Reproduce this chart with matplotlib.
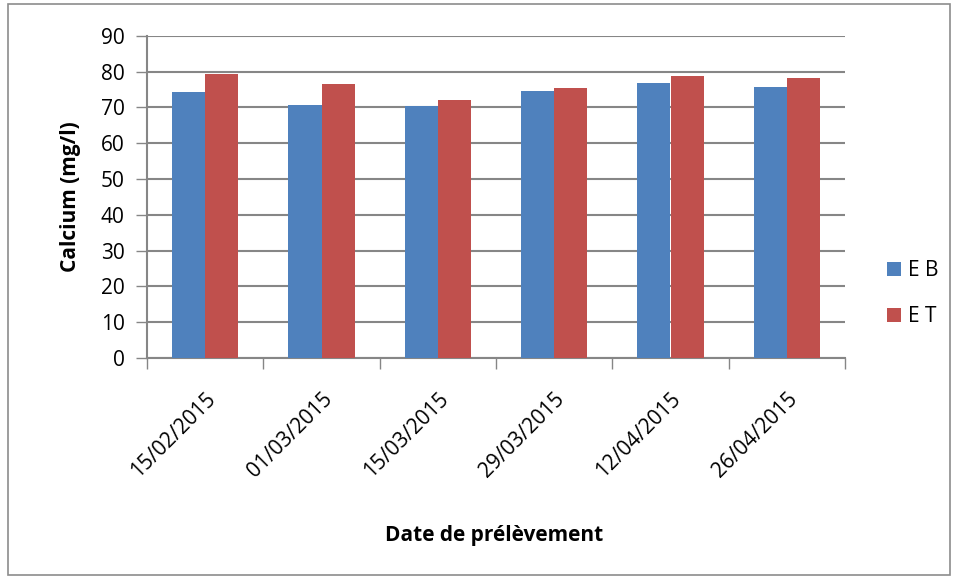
import numpy as np
import matplotlib.pyplot as plt
from matplotlib.patches import Rectangle

dates = ['15/02/2015', '01/03/2015', '15/03/2015', '29/03/2015', '12/04/2015', '26/04/2015']
eb = [74.3, 70.6, 70.4, 74.6, 76.8, 75.7]
et = [79.3, 76.5, 72.0, 75.4, 78.7, 78.2]

plt.rcParams['font.family'] = ['Open Sans', 'DejaVu Sans']

fig = plt.figure(figsize=(9.58, 5.79), dpi=100)
ax = fig.add_axes([147 / 958, 1 - 358 / 579, (845 - 147) / 958, (358 - 35.7) / 579])

# cadre extérieur
fig.patches.append(Rectangle((8 / 958, 4 / 579), 942 / 958, 571 / 579, transform=fig.transFigure,
                             fill=False, edgecolor='#8c8c8c', linewidth=1.2))

x = np.arange(len(dates))
w = 0.285
ax.bar(x - w / 2, eb, w, color='#4f81bd', label='E B', zorder=3)
ax.bar(x + w / 2, et, w, color='#c0504d', label='E T', zorder=3)

ax.set_xlim(-0.5, len(dates) - 0.5)
ax.set_ylim(0, 90)
ax.set_yticks(range(0, 91, 10))
ax.yaxis.grid(True, color='#868686', linewidth=1.5, zorder=0)
ax.set_axisbelow(True)

ax.set_xticks(np.arange(-0.5, len(dates), 1.0))
ax.set_xticklabels([])
ax.set_xticks(x, minor=True)
ax.set_xticklabels(dates, minor=True, rotation=45, ha='right', rotation_mode='anchor', fontsize=15)
ax.tick_params(axis='x', which='minor', length=0, pad=22)
ax.tick_params(axis='x', which='major', length=8, width=1, color='#868686')
ax.tick_params(axis='y', length=8, width=1, color='#868686', labelsize=15, pad=8)

for side in ['top', 'right']:
    ax.spines[side].set_visible(False)
for side in ['left', 'bottom']:
    ax.spines[side].set_color('#868686')
    ax.spines[side].set_linewidth(1.5)

ax.set_ylabel('Calcium (mg/l)', fontsize=15, fontweight='bold', labelpad=14)
fig.text(494 / 958, 1 - 535 / 579, 'Date de prélèvement', fontsize=15, fontweight='bold',
         ha='center', va='center')

ax.legend(loc='center left', bbox_to_anchor=(887 / 958, 1 - 294 / 579), bbox_transform=fig.transFigure,
          frameon=False, fontsize=15, handlelength=0.65, handleheight=0.65, handletextpad=0.35,
          labelspacing=1.2, borderpad=0, borderaxespad=0)

fig.savefig('out.png', dpi=100)
